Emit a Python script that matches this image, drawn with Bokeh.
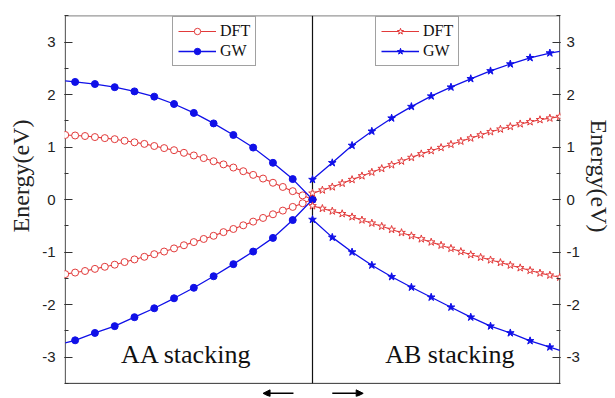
from bokeh.plotting import figure
from bokeh.models import (Range1d, LinearAxis, Legend, LegendItem, Label,
                          Arrow, NormalHead, SingleIntervalTicker, CustomJSTickFormatter)
from bokeh.embed import file_html
from bokeh.resources import INLINE

# k-path coordinate measured from the crossing point (0) outward (1 = zone edge)
k_dft = [0.00, 0.04, 0.08, 0.12, 0.16, 0.20, 0.24, 0.28, 0.32, 0.36, 0.40, 0.44, 0.48,
         0.52, 0.56, 0.60, 0.64, 0.68, 0.72, 0.76, 0.80, 0.84, 0.88, 0.92, 0.96, 1.00]
k_gw = [0.00, 0.08, 0.16, 0.24, 0.32, 0.40, 0.48, 0.56, 0.64, 0.72, 0.80, 0.88, 0.96, 1.00]

# AA stacking (left half)
aa_dft_up = [0.00, 0.08, 0.16, 0.24, 0.32, 0.40, 0.47, 0.54, 0.61, 0.67, 0.73, 0.79, 0.84,
             0.89, 0.94, 0.98, 1.02, 1.06, 1.09, 1.12, 1.15, 1.17, 1.19, 1.21, 1.22, 1.23]
aa_dft_dn = [0.00, -0.07, -0.14, -0.21, -0.28, -0.35, -0.42, -0.49, -0.56, -0.62, -0.69, -0.75, -0.81,
             -0.87, -0.93, -0.99, -1.04, -1.09, -1.14, -1.19, -1.24, -1.28, -1.32, -1.36, -1.39, -1.42]
aa_gw_up = [0.00, 0.39, 0.70, 0.99, 1.23, 1.45, 1.65, 1.82, 1.96, 2.06, 2.14, 2.20, 2.24, 2.26]
aa_gw_dn = [0.00, -0.39, -0.73, -0.99, -1.23, -1.46, -1.68, -1.88, -2.07, -2.24, -2.41, -2.54, -2.68, -2.73]

# AB stacking (right half)
ab_dft_up = [0.12, 0.18, 0.24, 0.31, 0.38, 0.45, 0.52, 0.59, 0.66, 0.73, 0.80, 0.87, 0.93,
             0.99, 1.05, 1.11, 1.17, 1.23, 1.29, 1.34, 1.39, 1.44, 1.48, 1.52, 1.55, 1.58]
ab_dft_dn = [-0.12, -0.17, -0.22, -0.27, -0.33, -0.39, -0.45, -0.51, -0.57, -0.63, -0.69, -0.75, -0.81,
             -0.87, -0.93, -0.99, -1.05, -1.10, -1.15, -1.20, -1.25, -1.30, -1.35, -1.40, -1.44, -1.48]
ab_gw_up = [0.38, 0.70, 1.03, 1.30, 1.55, 1.77, 1.97, 2.14, 2.30, 2.45, 2.58, 2.70, 2.79, 2.82]
ab_gw_dn = [-0.38, -0.72, -1.00, -1.25, -1.47, -1.67, -1.86, -2.05, -2.24, -2.41, -2.54, -2.69, -2.81, -2.87]

y_ticks_interval = 1
y_title = "Energy(eV)"
labels = ["AA stacking", "AB stacking"]
series_names = ["DFT", "GW"]

RED = "#e23a3a"
BLUE = "#1010e8"
DARK = "#333333"
SERIF = "Liberation Serif"
SANS = "Liberation Sans"
PAD = "\u00a0" * 10   # shifts the axis titles upward like in the original

p = figure(width=615, height=398, x_range=Range1d(-1.003, 1.003), y_range=Range1d(-3.75, 3.505),
           output_backend="svg", toolbar_location=None,
           min_border_left=64, min_border_right=55, min_border_top=15, min_border_bottom=2)
p.xaxis.visible = False
p.grid.visible = False
p.outline_line_color = None

def style_axis(ax):
    ax.ticker = SingleIntervalTicker(interval=y_ticks_interval, num_minor_ticks=2)
    ax.formatter = CustomJSTickFormatter(code="return tick.toFixed(0);")
    ax.major_tick_in = 8
    ax.major_tick_out = 0
    ax.minor_tick_in = 4
    ax.minor_tick_out = 0
    ax.major_tick_line_color = DARK
    ax.minor_tick_line_color = DARK
    ax.axis_line_color = None
    ax.major_label_text_font = SANS
    ax.major_label_text_font_size = "15px"
    ax.major_label_text_color = "#222222"
    ax.axis_label_text_font = SERIF
    ax.axis_label_text_font_style = "normal"
    ax.axis_label_text_font_size = "24px"
    ax.axis_label_text_color = "#222222"

style_axis(p.yaxis[0])
p.yaxis[0].axis_label = PAD + y_title
p.yaxis[0].major_label_standoff = 9
p.yaxis[0].axis_label_standoff = 5
rax = LinearAxis()
style_axis(rax)
rax.axis_label = y_title + PAD
rax.major_label_standoff = 6
rax.axis_label_standoff = 3
p.add_layout(rax, "right")

# plot box (frame stops at -3.5; the strip below holds the arrows)
p.quad(left=[-1], right=[1], bottom=[-3.5], top=[3.5], fill_color=None, line_color=DARK, line_width=1)
# divider between the two stackings
p.segment(x0=[0], y0=[-3.5], x1=[0], y1=[3.5], line_color="#111111", line_width=1.2)

aa_x_dft = [-k for k in k_dft]
aa_x_gw = [-k for k in k_gw]

# AA
l1 = p.line(aa_x_dft, aa_dft_up, line_color=RED, line_width=1.1)
p.line(aa_x_dft, aa_dft_dn, line_color=RED, line_width=1.1)
s1 = p.scatter(aa_x_dft, aa_dft_up, marker="circle", size=7, line_color=RED, fill_color="white", line_width=1)
p.scatter(aa_x_dft, aa_dft_dn, marker="circle", size=7, line_color=RED, fill_color="white", line_width=1)

l2 = p.line(aa_x_gw, aa_gw_up, line_color=BLUE, line_width=1.3)
p.line(aa_x_gw, aa_gw_dn, line_color=BLUE, line_width=1.3)
s2 = p.scatter(aa_x_gw[:-1], aa_gw_up[:-1], marker="circle", size=7, line_color=BLUE, fill_color=BLUE)
p.scatter(aa_x_gw[:-1], aa_gw_dn[:-1], marker="circle", size=7, line_color=BLUE, fill_color=BLUE)

# AB
l3 = p.line(k_dft, ab_dft_up, line_color=RED, line_width=1.1)
p.line(k_dft, ab_dft_dn, line_color=RED, line_width=1.1)
s3 = p.scatter(k_dft, ab_dft_up, marker="star", size=8, line_color=RED, fill_color="white", line_width=1)
p.scatter(k_dft, ab_dft_dn, marker="star", size=8, line_color=RED, fill_color="white", line_width=1)

l4 = p.line(k_gw, ab_gw_up, line_color=BLUE, line_width=1.3)
p.line(k_gw, ab_gw_dn, line_color=BLUE, line_width=1.3)
s4 = p.scatter(k_gw[:-1], ab_gw_up[:-1], marker="star", size=8, line_color=BLUE, fill_color=BLUE)
p.scatter(k_gw[:-1], ab_gw_dn[:-1], marker="star", size=8, line_color=BLUE, fill_color=BLUE)

def make_legend(items, loc):
    leg = Legend(items=items, location=loc, orientation="vertical")
    leg.label_text_font = SERIF
    leg.label_text_font_size = "16px"
    leg.label_text_color = "#111111"
    leg.glyph_width = 38
    leg.glyph_height = 16
    leg.label_height = 16
    leg.label_standoff = 4
    leg.spacing = 2
    leg.padding = 5
    leg.margin = 0
    leg.border_line_color = "#444444"
    leg.border_line_width = 1
    leg.background_fill_alpha = 1
    return leg

p.add_layout(make_legend([LegendItem(label=series_names[0], renderers=[l1, s1]),
                          LegendItem(label=series_names[1], renderers=[l2, s2])], (108, 330)), "center")
p.add_layout(make_legend([LegendItem(label=series_names[0], renderers=[l3, s3]),
                          LegendItem(label=series_names[1], renderers=[l4, s4])], (311, 330)), "center")

p.add_layout(Label(x=-0.774, y=-2.95, text=labels[0], text_font=SERIF, text_font_size="26px",
                   text_color="#111111", text_baseline="alphabetic"))
p.add_layout(Label(x=0.294, y=-2.95, text=labels[1], text_font=SERIF, text_font_size="26px",
                   text_color="#111111", text_baseline="alphabetic"))

p.add_layout(Arrow(x_start=-0.077, y_start=-3.69, x_end=-0.2, y_end=-3.69, line_width=1.5,
                   end=NormalHead(size=7, fill_color="black", line_color="black")))
p.add_layout(Arrow(x_start=0.08, y_start=-3.69, x_end=0.205, y_end=-3.69, line_width=1.5,
                   end=NormalHead(size=7, fill_color="black", line_color="black")))

open("out.html", "w").write(file_html(p, INLINE))
